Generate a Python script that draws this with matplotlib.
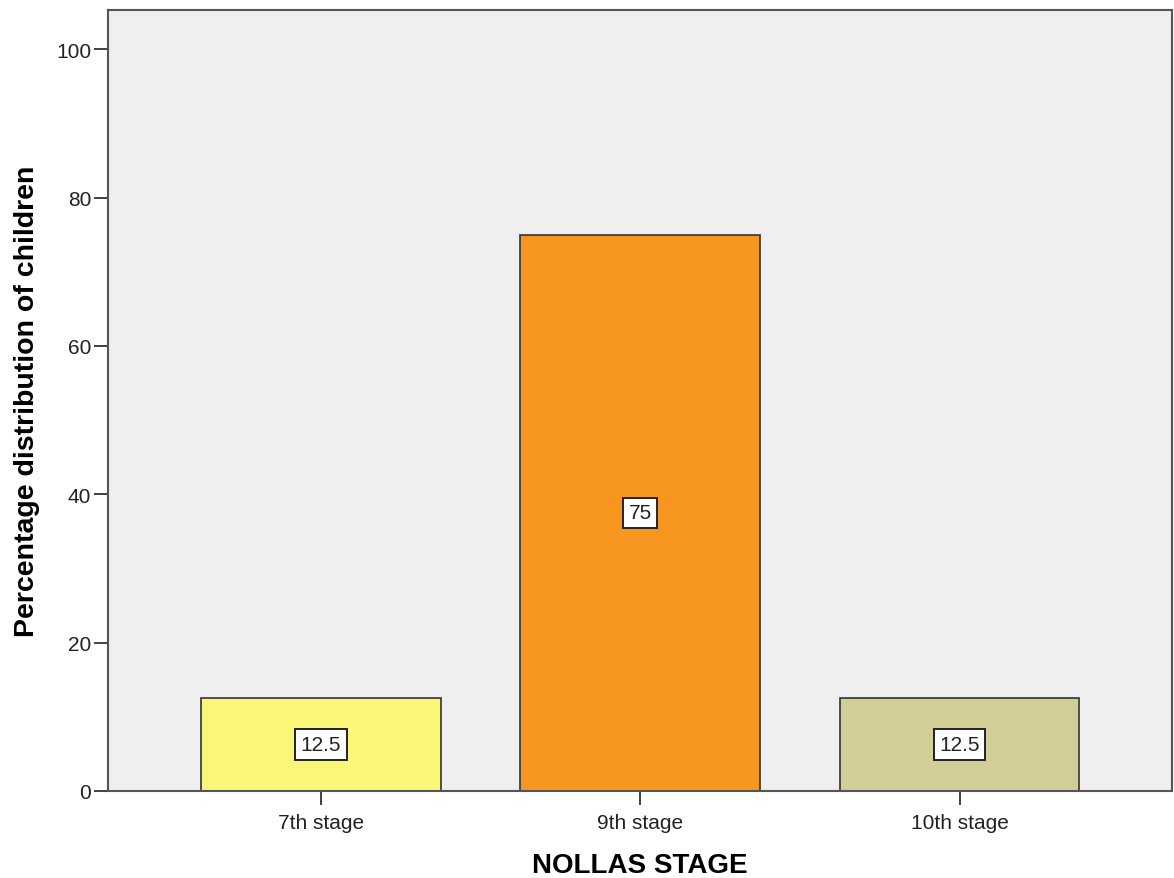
import numpy as np
import matplotlib.pyplot as plt

plt.rcParams['font.family'] = ['Liberation Sans', 'DejaVu Sans']

stages = ['7th stage', '9th stage', '10th stage']
percent = [12.5, 75, 12.5]
bar_colors = ['#FAF677', '#F7961E', '#D3CE97']
bar_labels = ['12.5', '75', '12.5']

fig = plt.figure(figsize=(11.74, 8.79), dpi=100)
ax = fig.add_axes([0.092, 0.099, 0.9067, 0.8885])
ax.set_facecolor('#EFEFEF')

x = np.arange(len(stages))
bars = ax.bar(x, percent, width=0.75, color=bar_colors, edgecolor='#333333', linewidth=1.2, zorder=2)

for xi, val, lab in zip(x, percent, bar_labels):
    ax.text(xi, val / 2, lab, ha='center', va='center', fontsize=15, color='#222222', zorder=3,
            bbox=dict(boxstyle='square,pad=0.27', facecolor='white', edgecolor='#222222', linewidth=1.4))

ax.set_xlim(-2 / 3, 2 + 2 / 3)
ax.set_ylim(0, 105.3)
ax.set_yticks([0, 20, 40, 60, 80, 100])
ax.set_xticks(x)
ax.set_xticklabels(stages)
ax.tick_params(axis='both', labelsize=15, colors='#333333', length=10, width=1.3, labelcolor='#222222')
ax.tick_params(axis='y', pad=2)
ax.tick_params(axis='x', pad=6)

for s in ax.spines.values():
    s.set_color('#555555')
    s.set_linewidth(1.5)

ax.set_xlabel('NOLLAS STAGE', fontsize=20, fontweight='bold', labelpad=14)
ax.set_ylabel('Percentage distribution of children', fontsize=20.5, fontweight='bold', labelpad=12)

fig.savefig('out.png', dpi=100)
